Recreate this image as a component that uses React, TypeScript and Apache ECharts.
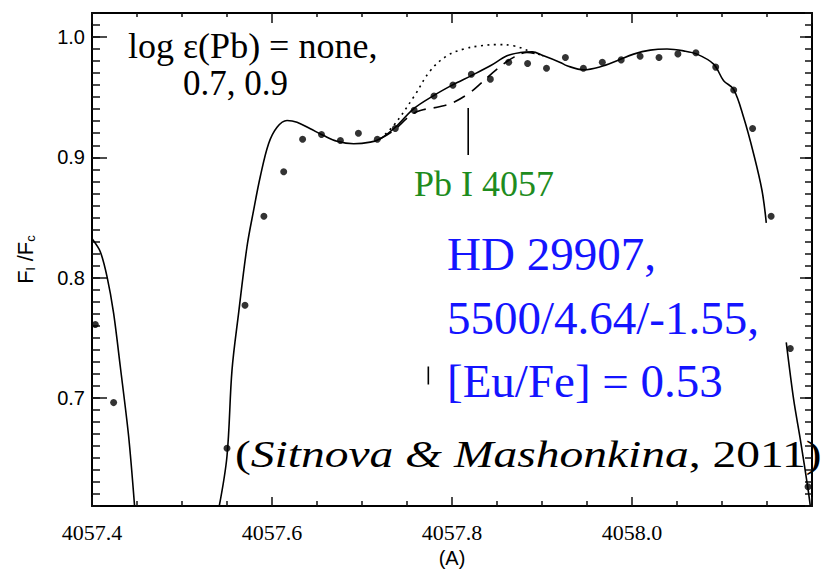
import React, { useEffect, useRef } from 'react';
import * as echarts from 'echarts';

// ---------- data (wavelength in Å, normalised flux) ----------
const obsWave = [4057.4037, 4057.424, 4057.550, 4057.570, 4057.591, 4057.613, 4057.634, 4057.655, 4057.676, 4057.696, 4057.717, 4057.737, 4057.758, 4057.780, 4057.801, 4057.8215, 4057.8426, 4057.863, 4057.884, 4057.905, 4057.926, 4057.946, 4057.967, 4057.988, 4058.009, 4058.030, 4058.051, 4058.071, 4058.093, 4058.113, 4058.134, 4058.1546, 4058.1759, 4058.1956];
const obsFlux = [0.761, 0.696, 0.658, 0.777, 0.851, 0.888, 0.915, 0.919, 0.914, 0.920, 0.915, 0.924, 0.939, 0.951, 0.960, 0.969, 0.965, 0.979, 0.978, 0.974, 0.983, 0.974, 0.979, 0.981, 0.984, 0.983, 0.986, 0.987, 0.975, 0.956, 0.924, 0.851, 0.741, 0.626];

// synthetic spectrum, log eps(Pb) = 0.7 (solid), three drawn pieces
const leftWave = [4057.4003, 4057.4092, 4057.4167, 4057.424, 4057.4314, 4057.4407, 4057.4473];
const leftFlux = [0.832, 0.8215, 0.8007, 0.7704, 0.7262, 0.668, 0.61];

const mainWave = [4057.5414, 4057.55, 4057.5556, 4057.5629, 4057.5722, 4057.5796, 4057.587, 4057.5962, 4057.6056, 4057.6167, 4057.6278, 4057.6426, 4057.6573, 4057.6722, 4057.6907, 4057.7092, 4057.7203, 4057.737, 4057.7573, 4057.7796, 4057.8007, 4057.8214, 4057.8426, 4057.8611, 4057.8759, 4057.8889, 4057.9018, 4057.9203, 4057.9278, 4057.9462, 4057.9648, 4057.9833, 4058.0018, 4058.0203, 4058.0389, 4058.0573, 4058.0722, 4058.0907, 4058.1018, 4058.1129, 4058.124, 4058.1351, 4058.1444, 4058.1492];
const mainFlux = [0.61, 0.6516, 0.7234, 0.7704, 0.8256, 0.856, 0.884, 0.9113, 0.925, 0.9306, 0.9292, 0.9237, 0.9181, 0.9134, 0.9113, 0.9126, 0.9154, 0.925, 0.9403, 0.9513, 0.9602, 0.9679, 0.9761, 0.9844, 0.9871, 0.9877, 0.9844, 0.9789, 0.9761, 0.9728, 0.9753, 0.9803, 0.9858, 0.9891, 0.99, 0.9885, 0.9858, 0.9775, 0.9637, 0.9565, 0.9333, 0.903, 0.8726, 0.8455];

const rightWave = [4058.1714, 4058.1796, 4058.187, 4058.1956, 4058.1981];
const rightFlux = [0.7461, 0.6986, 0.6655, 0.624, 0.61];

// log eps(Pb) = none (dotted)
const noneWave = [4057.7203, 4057.7351, 4057.7573, 4057.7759, 4057.7944, 4057.8129, 4057.8314, 4057.85, 4057.8684, 4057.887, 4057.9018];
const noneFlux = [0.9154, 0.9264, 0.95, 0.972, 0.9844, 0.99, 0.9927, 0.9937, 0.9927, 0.988, 0.9844];

// log eps(Pb) = 0.9 (dashed)
const pb09Wave = [4057.7203, 4057.7351, 4057.7537, 4057.7648, 4057.787, 4057.8018, 4057.8203, 4057.8314, 4057.85, 4057.8684, 4057.8833, 4057.9018];
const pb09Flux = [0.9154, 0.9223, 0.9347, 0.9389, 0.9422, 0.9457, 0.954, 0.961, 0.9734, 0.9831, 0.9871, 0.9844];

// Pb I line marker
const markerWave = [4057.818, 4057.818];
const markerFlux = [0.941, 0.902];

// small stray tick under the blue caption
const strayWave = [4057.7737, 4057.7737];
const strayFlux = [0.726, 0.711];

const yTickValues = [0.7, 0.8, 0.9, 1.0];

const X_MIN = 4057.4;
const X_MAX = 4058.2;
const Y_MIN = 0.61;
const Y_MAX = 1.02;

const SERIF = 'Liberation Serif';
const SANS = 'Liberation Sans';

const pairs = (xs: number[], ys: number[]) => xs.map((x, i) => [x, ys[i]]);

export default function App() {
  const ref = useRef<HTMLDivElement>(null);

  useEffect(() => {
    if (!ref.current) return;
    const chart = echarts.init(ref.current, null, { renderer: 'svg' });

    const lineBase = {
      type: 'line',
      showSymbol: false,
      symbol: 'none',
      xAxisIndex: 0,
      yAxisIndex: 0,
      clip: true,
      silent: true,
    };

    const yCommon = {
      type: 'value',
      min: Y_MIN,
      max: Y_MAX,
      splitLine: { show: false },
    };

    chart.setOption({
      animation: false,
      backgroundColor: '#fff',
      textStyle: { fontFamily: SERIF },
      grid: {
        left: 92,
        top: 13,
        right: 17,
        bottom: 67,
        containLabel: false,
        outerBoundsMode: 'none',
      },
      xAxis: [
        {
          type: 'value',
          min: X_MIN,
          max: X_MAX,
          interval: 0.2,
          position: 'bottom',
          axisLine: { onZero: false, lineStyle: { color: '#000', width: 2 } },
          axisTick: { inside: true, length: 9, lineStyle: { color: '#111', width: 1.5 } },
          minorTick: { show: true, splitNumber: 4, length: 5, lineStyle: { color: '#111', width: 1.5 } },
          axisLabel: {
            margin: 15,
            fontFamily: SERIF,
            fontSize: 22,
            color: '#000',
            showMaxLabel: false,
            formatter: (v: number) => (v > 4058.15 ? '' : v.toFixed(1)),
          },
          splitLine: { show: false },
          minorSplitLine: { show: false },
          name: '(A)',
          nameLocation: 'middle',
          nameGap: 41,
          nameTextStyle: { fontFamily: SANS, fontSize: 20, color: '#000' },
        },
        {
          type: 'value',
          min: X_MIN,
          max: X_MAX,
          interval: 0.2,
          position: 'top',
          axisLine: { onZero: false, lineStyle: { color: '#000', width: 2 } },
          axisTick: { inside: true, length: 10, lineStyle: { color: '#111', width: 1.5 } },
          minorTick: { show: true, splitNumber: 4, length: 4, lineStyle: { color: '#111', width: 1.5 } },
          axisLabel: { show: false },
          splitLine: { show: false },
        },
      ],
      yAxis: [
        {
          ...yCommon,
          position: 'left',
          axisLine: { onZero: false, lineStyle: { color: '#000', width: 2 } },
          axisTick: { inside: true, length: 15, customValues: yTickValues, lineStyle: { color: '#111', width: 1.5 } },
          axisLabel: {
            customValues: yTickValues,
            margin: 7,
            fontFamily: SANS,
            fontSize: 20,
            color: '#000',
            formatter: (v: number) => v.toFixed(1),
          },
          name: '{f|F}{s|l} {f|/F}{s|c}',
          nameLocation: 'middle',
          nameRotate: 90,
          nameGap: 55,
          nameTextStyle: {
            fontFamily: SANS,
            fontSize: 22,
            color: '#000',
            rich: {
              f: { fontFamily: SANS, fontSize: 22, color: '#000' },
              s: { fontFamily: SANS, fontSize: 13, color: '#000', padding: [10, 0, 0, 0] },
            },
          },
        },
        {
          ...yCommon,
          position: 'left',
          interval: 0.01,
          axisLine: { show: false },
          axisTick: { inside: true, length: 8, lineStyle: { color: '#111', width: 1.5 } },
          axisLabel: { show: false },
        },
        {
          ...yCommon,
          position: 'right',
          axisLine: { onZero: false, lineStyle: { color: '#000', width: 2 } },
          axisTick: { inside: true, length: 12, customValues: yTickValues, lineStyle: { color: '#111', width: 1.5 } },
          axisLabel: { show: false },
        },
        {
          ...yCommon,
          position: 'right',
          interval: 0.01,
          axisLine: { show: false },
          axisTick: { inside: true, length: 7, lineStyle: { color: '#111', width: 1.5 } },
          axisLabel: { show: false },
        },
      ],
      series: [
        {
          ...lineBase,
          name: 'none',
          data: pairs(noneWave, noneFlux),
          smooth: 0.4,
          lineStyle: { color: '#000', width: 1.6, type: [2, 4.5] },
        },
        {
          ...lineBase,
          name: '0.9',
          data: pairs(pb09Wave, pb09Flux),
          smooth: 0.4,
          lineStyle: { color: '#000', width: 1.6, type: [13, 8] },
        },
        {
          ...lineBase,
          name: 'left',
          data: pairs(leftWave, leftFlux),
          smooth: 0.3,
          lineStyle: { color: '#000', width: 1.6 },
        },
        {
          ...lineBase,
          name: '0.7',
          data: pairs(mainWave, mainFlux),
          smooth: 0.35,
          lineStyle: { color: '#000', width: 1.6 },
        },
        {
          ...lineBase,
          name: 'right',
          data: pairs(rightWave, rightFlux),
          smooth: 0.3,
          lineStyle: { color: '#000', width: 1.6 },
        },
        {
          ...lineBase,
          name: 'Pb marker',
          data: pairs(markerWave, markerFlux),
          lineStyle: { color: '#000', width: 1.6 },
        },
        {
          ...lineBase,
          name: 'stray',
          data: pairs(strayWave, strayFlux),
          lineStyle: { color: '#000', width: 1.6 },
        },
        {
          type: 'scatter',
          name: 'observed',
          xAxisIndex: 0,
          yAxisIndex: 0,
          symbol: 'circle',
          symbolSize: 7,
          itemStyle: { color: '#000' },
          data: pairs(obsWave, obsFlux),
          silent: true,
        },
      ],
      graphic: [
        {
          type: 'text',
          x: 128,
          y: 45.5,
          style: {
            text: 'log ε(Pb) = none,',
            font: `36px ${SERIF}`,
            fill: '#000',
            textVerticalAlign: 'middle',
          },
        },
        {
          type: 'text',
          x: 183,
          y: 83,
          style: {
            text: '0.7, 0.9',
            font: `35px ${SERIF}`,
            fill: '#000',
            textVerticalAlign: 'middle',
          },
        },
        {
          type: 'text',
          x: 414,
          y: 184,
          style: {
            text: 'Pb I 4057',
            font: `36px ${SERIF}`,
            fill: '#1e8c1e',
            textVerticalAlign: 'middle',
          },
        },
        {
          type: 'text',
          x: 447,
          y: 254,
          style: {
            text: 'HD 29907,',
            font: `47px ${SERIF}`,
            fill: '#1414ff',
            textVerticalAlign: 'middle',
          },
        },
        {
          type: 'text',
          x: 447,
          y: 318,
          style: {
            text: '5500/4.64/-1.55,',
            font: `47px ${SERIF}`,
            fill: '#1414ff',
            textVerticalAlign: 'middle',
          },
        },
        {
          type: 'text',
          x: 447,
          y: 381,
          style: {
            text: '[Eu/Fe] = 0.53',
            font: `47px ${SERIF}`,
            fill: '#1414ff',
            textVerticalAlign: 'middle',
          },
        },
        {
          type: 'text',
          x: 235,
          y: 454,
          scaleX: 1.25,
          style: {
            text: '{n|(}{i|Sitnova & Mashonkina}{n|, 2011)}',
            font: `38px ${SERIF}`,
            fill: '#000',
            textVerticalAlign: 'middle',
            rich: {
              n: { fontFamily: SERIF, fontSize: 38, fill: '#000', color: '#000' },
              i: { fontFamily: SERIF, fontSize: 38, fontStyle: 'italic', fill: '#000', color: '#000' },
            },
          },
        },
      ],
    });

    return () => chart.dispose();
  }, []);

  return (
    <div
      ref={ref}
      style={{ position: 'fixed', left: 0, top: 0, width: 829, height: 573, background: '#fff' }}
    />
  );
}
